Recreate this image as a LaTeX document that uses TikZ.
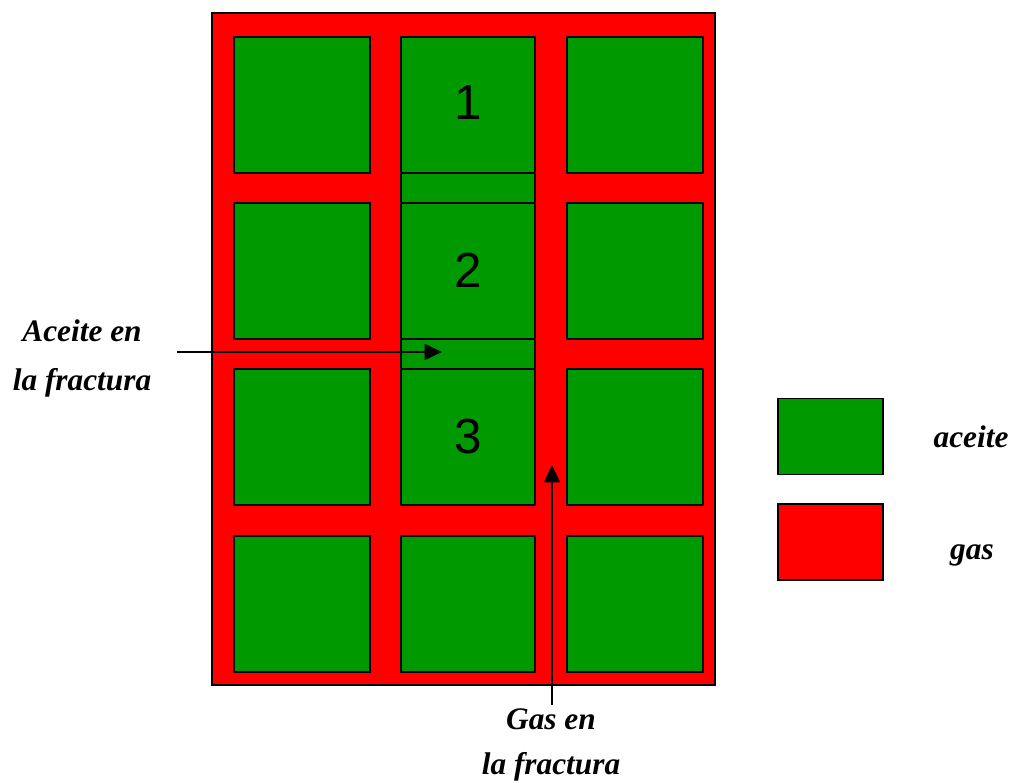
\documentclass[tikz,border=0pt]{standalone}
\usepackage{fontspec}
\setmainfont{Liberation Serif}
\newfontfamily\arialf{Liberation Sans}
\usetikzlibrary{arrows.meta}
\definecolor{oil}{RGB}{0,153,0}
\definecolor{gasred}{RGB}{255,0,0}
\begin{document}
\begin{tikzpicture}[x=0.75pt,y=-0.75pt,
  blk/.style={fill=oil,draw=black,line width=1.8pt},
  lbl/.style={font=\fontsize{23.5}{27}\selectfont\bfseries\itshape,inner sep=0pt},
  num/.style={font=\arialf\fontsize{37}{40}\selectfont,inner sep=0pt},
  arr/.style={draw=black,line width=1.3pt,-{Triangle[length=13pt,width=12pt]}}]
\useasboundingbox (0,0) rectangle (1014,782);
% outer gas region
\draw[fill=gasred,draw=black,line width=1.8pt] (212,13) rectangle (715,685);
% blocks
\foreach \x/\xx in {234/370,567/703}{
  \foreach \y/\yy in {37/173,203/339,369/505,536/672}{
    \draw[blk] (\x,\y) rectangle (\xx,\yy);
  }
}
\draw[blk] (401,536) rectangle (535,672);
% middle column with oil-filled fractures
\draw[blk] (401,37) rectangle (535,505);
\draw[line width=1.8pt] (401,173) -- (535,173);
\draw[line width=1.8pt] (401,203) -- (535,203);
\draw[line width=1.8pt] (401,339) -- (535,339);
\draw[line width=1.8pt] (401,369) -- (535,369);
% numbers
\node[num] (n1) at (468,103) {1};
\node[num] (n2) at (468,270) {2};
\node[num] (n3) at (468,437) {3};
% labels
\node[lbl] (oilL1) at (82,331) {Aceite en};
\node[lbl] (oilL2) at (82,383) {la fractura};
\node[lbl] (gasL1) at (551,719) {Gas en};
\node[lbl] (gasL2) at (551,767) {la fractura};
\coordinate (aS) at (177,352);
\coordinate (aE) at (442,352);
\coordinate (gS) at (552,705);
\coordinate (gE) at (552,465);
\draw[arr] (aS) -- (aE);
\draw[arr] (gS) -- (gE);
% legend
\node[draw=black,line width=1.3pt,fill=oil,minimum width=79pt,minimum height=57pt,inner sep=0pt] (legOil) at (830.5,436.5) {};
\node[draw=black,line width=1.3pt,fill=gasred,minimum width=79pt,minimum height=57pt,inner sep=0pt] (legGas) at (830.5,542) {};
\node[lbl] (tOil) at (971,437) {aceite};
\node[lbl] (tGas) at (972,555) {gas};
\end{tikzpicture}
\end{document}
